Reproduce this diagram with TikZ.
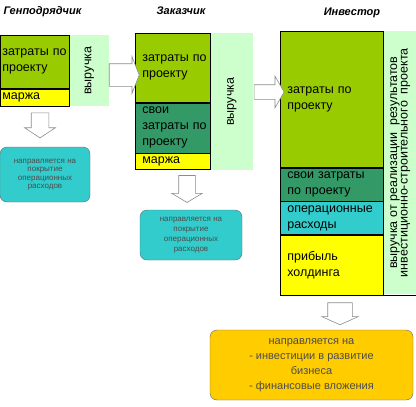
\documentclass[tikz,border=0pt]{standalone}
\usepackage{fontspec}
\setmainfont{Liberation Sans}
\usetikzlibrary{positioning,shapes.arrows}
\definecolor{costgreen}{HTML}{99CC00}
\definecolor{owngreen}{HTML}{339966}
\definecolor{marginyellow}{HTML}{FFFF00}
\definecolor{opteal}{HTML}{33CCCC}
\definecolor{revgreen}{HTML}{CCFFCC}
\definecolor{notegold}{HTML}{FFCC00}
\newcommand\boxfont{\fontsize{12.5}{16}\selectfont}
\newcommand\notefont{\fontsize{8}{8.5}\selectfont}
\begin{document}
\begin{tikzpicture}
  [x=1pt,y=-1pt,
   stackbox/.style={draw,rectangle,line width=0.6pt,inner ysep=0pt,align=left,font=\boxfont},
   revstrip/.style={rectangle,fill=revgreen,inner sep=0pt,anchor=north west},
   titlebox/.style={font=\bfseries\itshape\fontsize{11}{13}\selectfont},
   notebox/.style={draw=black!60,rounded corners=7pt,fill=opteal,text=black!70,align=center,inner sep=0pt},
   blockarrow/.style={single arrow,draw=black!45,fill=white,line width=0.6pt,inner sep=0pt,minimum width=0pt}]
  \useasboundingbox (0,0) rectangle (416,407);
  % titles
  \node (gctitle) [titlebox,anchor=west] at (0,12) {Генподрядчик};
  \node (cltitle) [titlebox] at (181,11) {Заказчик};
  \node (invtitle) [titlebox] at (352,13) {Инвестор};
  % general contractor
  \node (gccosts) [stackbox,fill=costgreen,anchor=north west,minimum width=69pt,minimum height=53pt,inner xsep=2pt,text width=65pt] at (0,35) {затраты~по\\проекту};
  \node (gcmargin) [stackbox,fill=marginyellow,minimum width=69pt,minimum height=17pt,inner xsep=2pt,text width=65pt,below=0 of gccosts] {маржа};
  \node (gcrevenue) [revstrip,minimum width=39pt,minimum height=71pt,label={[rotate=90,font=\boxfont]center:выручка}] at (gccosts.north east) {};
  % client
  \node (clcosts) [stackbox,fill=costgreen,anchor=north west,minimum width=75pt,minimum height=69pt,inner xsep=7pt,text width=61pt] at (135,33) {затраты~по\\проекту};
  \node (clown) [stackbox,fill=owngreen,minimum width=75pt,minimum height=50pt,inner xsep=7pt,text width=61pt,below=0 of clcosts] {свои\\затраты~по\\проекту};
  \node (clmargin) [stackbox,fill=marginyellow,minimum width=75pt,minimum height=16pt,inner xsep=7pt,text width=61pt,below=0 of clown] {маржа};
  \node (clrevenue) [revstrip,minimum width=42pt,minimum height=137pt,label={[rotate=90,font=\boxfont]center:выручка}] at (clcosts.north east) {};
  % investor
  \node (invcosts) [stackbox,fill=costgreen,anchor=north west,minimum width=103pt,minimum height=136pt,inner xsep=7pt,text width=89pt] at (280,31) {затраты~по\\проекту};
  \node (invown) [stackbox,fill=owngreen,minimum width=103pt,minimum height=33pt,inner xsep=7pt,text width=89pt,below=0 of invcosts] {свои~затраты\\по~проекту};
  \node (invopex) [stackbox,fill=opteal,minimum width=103pt,minimum height=33pt,inner xsep=7pt,text width=89pt,below=0 of invown] {операционные\\расходы};
  \node (invprofit) [stackbox,fill=marginyellow,minimum width=103pt,minimum height=60pt,inner xsep=7pt,text width=89pt,below=0 of invopex] {прибыль\\холдинга};
  \node (invrevenue) [revstrip,minimum width=33pt,minimum height=263pt,label={[rotate=90,align=center,font=\fontsize{12.5}{10.5}\selectfont]center:выручка от реализации\ \ результатов\\инвестиционно-строительного\ \ проекта}] at (invcosts.north east) {};
  \draw [line width=0.6pt] (invprofit.south east) -- (invprofit.south east -| invrevenue.east);
  % block arrows
  \node (gcarrow) [blockarrow,minimum height=30pt,inner ysep=11pt,single arrow head extend=7pt,single arrow tip angle=137] at (122,75) {};
  \node (clarrow) [blockarrow,minimum height=30pt,inner ysep=7pt,single arrow head extend=8.5pt,single arrow tip angle=120] at (267,92) {};
  \node (gcdown) [blockarrow,rotate=-90,minimum height=25pt,inner ysep=8.5pt,single arrow head extend=6.5pt,single arrow tip angle=113] at (40,122.5) {};
  \node (cldown) [blockarrow,rotate=-90,minimum height=27pt,inner ysep=8pt,single arrow head extend=7pt,single arrow tip angle=118] at (187,186.5) {};
  \node (invdown) [blockarrow,rotate=-90,minimum height=22pt,inner ysep=12pt,single arrow head extend=6pt,single arrow tip angle=132] at (340,311) {};
  % notes
  \node (gcnote) [notebox,minimum width=90pt,minimum height=55pt,font=\notefont] at (45,174.5) {направляется на\\покрытие\\операционных\\расходов};
  \node (clnote) [notebox,minimum width=102pt,minimum height=50pt,font=\fontsize{8}{10}\selectfont] at (191,235) {направляется на\\покрытие\\операционных\\расходов};
  \node (invnote) [notebox,fill=notegold,minimum width=203pt,minimum height=70pt,font=\fontsize{11}{15}\selectfont] at (311.5,365) {направляется на\\- инвестиции в развитие\\бизнеса\\- финансовые вложения};
\end{tikzpicture}
\end{document}
